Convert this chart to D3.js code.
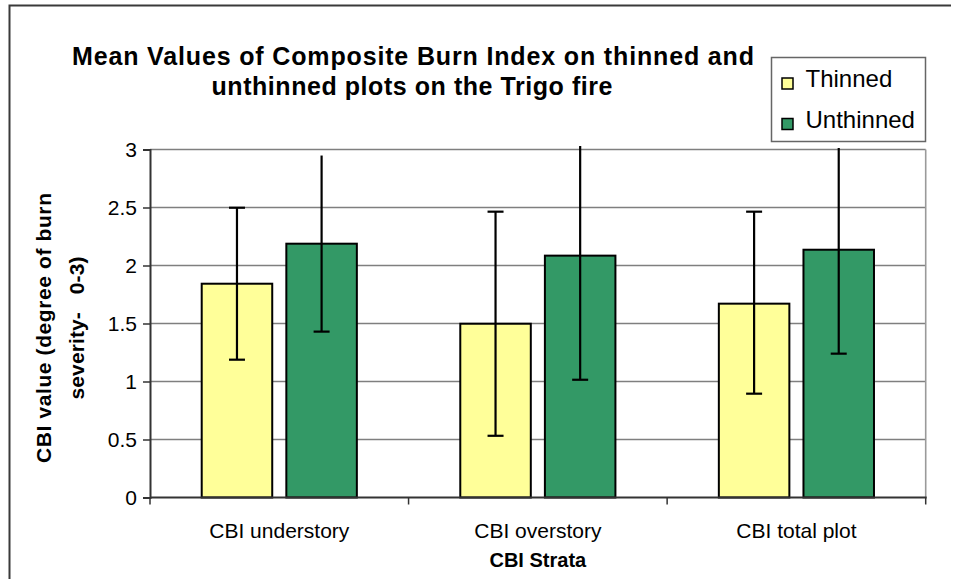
<!DOCTYPE html>
<html>
<head>
<meta charset="utf-8">
<script src="https://cdn.jsdelivr.net/npm/d3@7"></script>
<style>
  body { margin: 0; background: #fff; }
  svg { display: block; font-family: "Liberation Sans", Arial, sans-serif; }
</style>
</head>
<body>
<svg width="956" height="579"></svg>
<script>
var categories = ["CBI understory", "CBI overstory", "CBI total plot"];
var series = ["Thinned", "Unthinned"];
var thinned = [1.843, 1.498, 1.671];
var unthinned = [2.188, 2.085, 2.136];
// error bar extents (upper part of unthinned bars is cut off in the original, no cap)
var thinnedPlus = [0.655, 0.966, 0.793];
var thinnedMinus = [0.655, 0.966, 0.776];
var unthinnedPlus = [0.76, 0.945, 0.877];
var unthinnedMinus = [0.758, 1.07, 0.896];
var yTicks = [0, 0.5, 1, 1.5, 2, 2.5, 3];

var color = {"Thinned": "#ffff99", "Unthinned": "#339966"};

var svg = d3.select("svg");

var plotLeft = 150, plotRight = 925.7, plotTop = 149.5, plotBottom = 497.5;

var x = d3.scaleBand().domain(categories).range([plotLeft, plotRight]).padding(0);
var bw = x.bandwidth();
var x1 = d3.scaleBand().domain(series).range([bw * 0.2, bw * 0.8]).paddingInner(1 / 6);
var y = d3.scaleLinear().domain([0, 3]).range([plotBottom, plotTop]);

var rows = categories.map(function(c, i) {
  return [
    {cat: c, s: "Thinned", v: thinned[i], plus: thinnedPlus[i], minus: thinnedMinus[i], topCap: true},
    {cat: c, s: "Unthinned", v: unthinned[i], plus: unthinnedPlus[i], minus: unthinnedMinus[i], topCap: false}
  ];
});
var flat = d3.merge(rows);

// outer frame
svg.append("path")
    .attr("d", "M9.5,579V5.5H951")
    .attr("fill", "none")
    .attr("stroke", "#3a3a3a")
    .attr("stroke-width", 2);

// gridlines
svg.append("g").selectAll("line")
    .data(yTicks.slice(1))
    .enter().append("line")
    .attr("x1", plotLeft).attr("x2", plotRight)
    .attr("y1", function(d) { return y(d); })
    .attr("y2", function(d) { return y(d); })
    .attr("stroke", "#7f7f7f")
    .attr("stroke-width", 1.6);

// right border of plot
svg.append("line")
    .attr("x1", plotRight).attr("x2", plotRight)
    .attr("y1", plotTop).attr("y2", plotBottom)
    .attr("stroke", "#9a9a9a")
    .attr("stroke-width", 1.6);

// y axis
var yAxis = svg.append("g")
    .attr("transform", "translate(" + plotLeft + ",0)")
    .call(d3.axisLeft(y).tickValues(yTicks).tickSize(7).tickPadding(6)
      .tickFormat(function(d) { return d; }));
yAxis.select(".domain").attr("stroke", "#333").attr("stroke-width", 2);
yAxis.selectAll(".tick line").attr("stroke", "#333").attr("stroke-width", 1.5);
yAxis.selectAll("text")
    .attr("font-size", 21)
    .attr("fill", "#000")
    .attr("font-family", "Liberation Sans, Arial, sans-serif");

// bars
svg.append("g").selectAll("rect")
    .data(flat)
    .enter().append("rect")
    .attr("x", function(d) { return x(d.cat) + x1(d.s); })
    .attr("y", function(d) { return y(d.v); })
    .attr("width", x1.bandwidth())
    .attr("height", function(d) { return y(0) - y(d.v); })
    .attr("fill", function(d) { return color[d.s]; })
    .attr("stroke", "#000")
    .attr("stroke-width", 2);

// x axis
var xAxis = svg.append("g")
    .attr("transform", "translate(0," + plotBottom + ")");
xAxis.append("line")
    .attr("x1", plotLeft).attr("x2", plotRight + 1)
    .attr("stroke", "#333").attr("stroke-width", 2);
xAxis.selectAll(".sep")
    .data(d3.range(categories.length + 1))
    .enter().append("line")
    .attr("class", "sep")
    .attr("x1", function(i) { return plotLeft + i * bw; })
    .attr("x2", function(i) { return plotLeft + i * bw; })
    .attr("y1", 0).attr("y2", 7)
    .attr("stroke", "#333").attr("stroke-width", 1.5);
xAxis.selectAll(".lab")
    .data(categories)
    .enter().append("text")
    .attr("class", "lab")
    .attr("x", function(d) { return x(d) + bw / 2; })
    .attr("y", 40)
    .attr("text-anchor", "middle")
    .attr("font-size", 21)
    .text(function(d) { return d; });

// error bars
var err = svg.append("g").attr("stroke", "#000").attr("stroke-width", 2.2);
flat.forEach(function(d) {
  var cx = x(d.cat) + x1(d.s) + x1.bandwidth() / 2;
  var hi = y(d.v + d.plus), lo = y(d.v - d.minus);
  err.append("line").attr("x1", cx).attr("x2", cx).attr("y1", hi).attr("y2", lo);
  err.append("line").attr("x1", cx - 8).attr("x2", cx + 8).attr("y1", lo).attr("y2", lo);
  if (d.topCap) {
    err.append("line").attr("x1", cx - 8).attr("x2", cx + 8).attr("y1", hi).attr("y2", hi);
  }
});

// title
var title = svg.append("text")
    .attr("text-anchor", "middle")
    .attr("font-size", 25)
    .attr("font-weight", "bold");
title.append("tspan").attr("x", 413).attr("y", 65)
    .attr("textLength", 682).attr("lengthAdjust", "spacing")
    .text("Mean Values of Composite Burn Index on thinned and");
title.append("tspan").attr("x", 412).attr("y", 95)
    .attr("textLength", 401).attr("lengthAdjust", "spacing")
    .text("unthinned plots on the Trigo fire");

// axis titles
svg.append("text")
    .attr("x", (plotLeft + plotRight) / 2).attr("y", 567)
    .attr("text-anchor", "middle")
    .attr("font-size", 20)
    .attr("font-weight", "bold")
    .text("CBI Strata");

var yt = svg.append("text")
    .attr("transform", "translate(0,328) rotate(-90)")
    .attr("text-anchor", "middle")
    .attr("font-size", 21)
    .attr("font-weight", "bold");
yt.append("tspan").attr("x", 0).attr("y", 51)
    .attr("textLength", 270).attr("lengthAdjust", "spacing")
    .text("CBI value (degree of burn");
yt.append("tspan").attr("x", 0).attr("y", 84).attr("xml:space", "preserve")
    .attr("textLength", 143).attr("lengthAdjust", "spacing")
    .text("severity-   0-3)");

// legend
var legend = svg.append("g");
legend.append("rect")
    .attr("x", 771.5).attr("y", 57.5)
    .attr("width", 154).attr("height", 84)
    .attr("fill", "#fff")
    .attr("stroke", "#666")
    .attr("stroke-width", 1.5);
var li = legend.selectAll(".item")
    .data(series)
    .enter().append("g")
    .attr("transform", function(d, i) { return "translate(782," + (87 + i * 40.5) + ")"; });
li.append("rect")
    .attr("x", 0).attr("y", -9)
    .attr("width", 11).attr("height", 11)
    .attr("fill", function(d) { return color[d]; })
    .attr("stroke", "#000")
    .attr("stroke-width", 1.5);
li.append("text")
    .attr("x", 23.5).attr("y", 0)
    .attr("font-size", 24)
    .text(function(d) { return d; });
</script>
</body>
</html>
